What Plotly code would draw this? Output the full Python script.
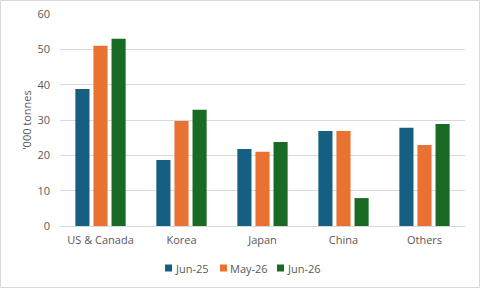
import plotly.graph_objects as go

categories = ["US & Canada", "Korea", "Japan", "China", "Others"]
jun25 = [38.8, 18.7, 21.8, 26.9, 27.8]
may26 = [51.0, 29.7, 21.0, 26.9, 22.9]
jun26 = [53.0, 32.9, 23.8, 7.9, 28.9]
series_names = ["Jun-25", "May-26", "Jun-26"]
colors = ["#156082", "#E97132", "#196B24"]

W, H = 481, 289
ml, mr, mt, mb = 60, 16, 14, 63
pw, ph = W - ml - mr, H - mt - mb

fig = go.Figure()
for name, vals, c in zip(series_names, [jun25, may26, jun26], colors):
    fig.add_trace(go.Bar(x=categories, y=vals, name=name, showlegend=False,
                         marker=dict(color=c, line=dict(width=0))))

# custom compact legend (square + label)
legend_px = [165, 220, 277]
leg_y = 268
shapes = [dict(type="rect", xref="paper", yref="paper",
               x0=-ml / pw + 0.5 / pw, x1=1 + (mr - 1.5) / pw,
               y0=-(mb - 1.5) / ph, y1=1 + (mt - 0.5) / ph,
               line=dict(color="#D9D9D9", width=1))]
annotations = []
for name, c, px in zip(series_names, colors, legend_px):
    shapes.append(dict(type="rect", xref="paper", yref="paper",
                       x0=(px - ml) / pw, x1=(px + 7 - ml) / pw,
                       y0=(H - mb - leg_y - 3.5) / ph, y1=(H - mb - leg_y + 3.5) / ph,
                       fillcolor=c, line=dict(width=0)))
    annotations.append(dict(x=(px + 8 - ml) / pw, y=(H - mb - leg_y) / ph,
                            xref="paper", yref="paper", xanchor="left", yanchor="middle",
                            text=name, showarrow=False,
                            font=dict(size=11, color="#595959")))

fig.update_layout(
    width=W, height=H,
    margin=dict(l=ml, r=mr, t=mt, b=mb, autoexpand=False),
    paper_bgcolor="white", plot_bgcolor="white",
    barmode="group", bargap=0.33, bargroupgap=0.22,
    font=dict(family="Open Sans, Lato, sans-serif", size=11, color="#595959"),
    showlegend=False,
    xaxis=dict(showgrid=False, showline=True, linecolor="#D9D9D9", linewidth=1,
               ticks="", ticklabelstandoff=4, tickfont=dict(size=11, color="#595959")),
    yaxis=dict(range=[0, 60], dtick=10, showgrid=True, gridcolor="#D9D9D9", gridwidth=1,
               zeroline=False, showline=False, ticks="", ticklabelstandoff=9,
               tickfont=dict(size=11, color="#595959"),
               title=dict(text="'000 tonnes", font=dict(size=11, color="#595959"), standoff=3)),
    shapes=shapes,
    annotations=annotations,
)

fig.write_html("out.html")
